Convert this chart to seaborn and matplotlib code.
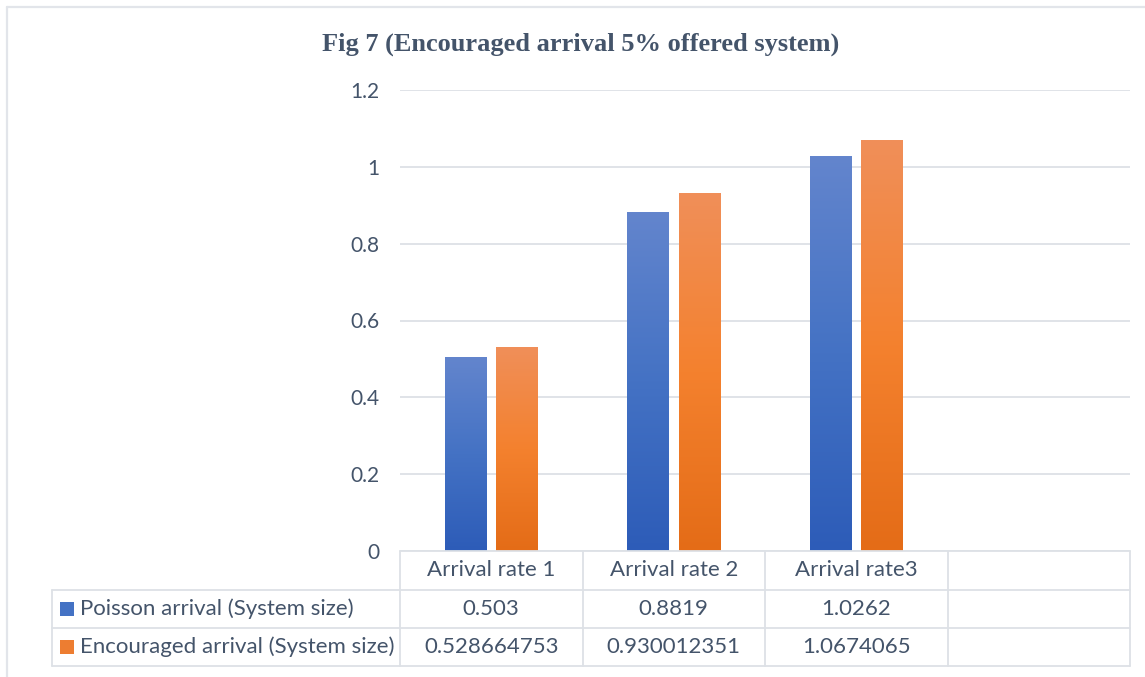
import numpy as np
import pandas as pd
import seaborn as sns
import matplotlib
matplotlib.use("Agg")
import matplotlib.pyplot as plt
from matplotlib import transforms
from matplotlib.colors import LinearSegmentedColormap
from matplotlib.patches import Rectangle

# ---- data ----
categories = ["Arrival rate 1", "Arrival rate 2", "Arrival rate3"]
series_names = ["Poisson arrival (System size)", "Encouraged arrival (System size)"]
poisson = [0.503, 0.8819, 1.0262]
encouraged = [0.528664753, 0.930012351, 1.0674065]
y_ticks = [0, 0.2, 0.4, 0.6, 0.8, 1.0, 1.2]
y_tick_labels = ["0", "0.2", "0.4", "0.6", "0.8", "1", "1.2"]
title = "Fig 7 (Encouraged arrival 5% offered system)"

# ---- style ----
W, H = 1145, 677
text_color = "#44546A"
grid_color = "#DDE1E6"
frame_color = "#E2E5EA"
blue_stops = ["#2D5CB8", "#4472C4", "#6385CD"]
orange_stops = ["#E46C17", "#F4812E", "#F08F59"]
base_colors = ["#4472C4", "#ED7D31"]
table_fs = 16
tick_fs = 15

sns.set_theme(style="white")
plt.rcParams["font.family"] = ["Lato", "DejaVu Sans"]

df = pd.DataFrame({
    "category": categories * 2,
    "series": [series_names[0]] * len(categories) + [series_names[1]] * len(categories),
    "value": poisson + encouraged,
})

fig = plt.figure(figsize=(W / 100, H / 100), dpi=100)
fig.patch.set_facecolor("white")

# pixel transform with origin at top-left
pix = transforms.Affine2D().scale(1 / W, -1 / H).translate(0, 1) + fig.transFigure

ax_left, ax_right, ax_top, ax_bottom = 400, 1130, 90, 551
ax = fig.add_axes([ax_left / W, (H - ax_bottom) / H,
                   (ax_right - ax_left) / W, (ax_bottom - ax_top) / H])

sns.barplot(data=df, x="category", y="value", hue="series",
            order=categories, hue_order=series_names,
            palette=base_colors, saturation=1, errorbar=None,
            width=0.565, gap=0.195, legend=False, ax=ax)

# vertical gradient fill for each bar
grad = np.linspace(0, 1, 256).reshape(-1, 1)
for container, stops in zip(ax.containers, [blue_stops, orange_stops]):
    cmap = LinearSegmentedColormap.from_list("g", stops)
    for patch in container.patches:
        x, y = patch.get_x(), patch.get_y()
        w, h = patch.get_width(), patch.get_height()
        patch.set_facecolor("none")
        patch.set_edgecolor("none")
        ax.imshow(grad, cmap=cmap, extent=(x, x + w, y, y + h),
                  origin="lower", aspect="auto", zorder=3,
                  interpolation="bilinear")

n_cols = len(categories) + 1
ax.set_xlim(-0.5, n_cols - 0.5)
ax.set_ylim(0, 1.2)
ax.set_yticks(y_ticks, y_tick_labels)
ax.set_xticks([])
ax.set_xlabel("")
ax.set_ylabel("")
ax.tick_params(axis="y", length=0, pad=14.5, labelsize=tick_fs, labelcolor=text_color)
ax.yaxis.grid(True, color=grid_color, linewidth=1.3)
ax.set_axisbelow(True)
for s in ax.spines.values():
    s.set_visible(False)

# ---- title ----
fig.text(581 / W, 1 - 44 / H, title, ha="center", va="center",
         fontsize=19, fontweight="bold", color=text_color,
         family=["Liberation Serif", "DejaVu Serif"])

# ---- outer chart frame ----
fig.add_artist(plt.Line2D([7, 7], [7, H], transform=pix, color=frame_color, lw=1.6))
fig.add_artist(plt.Line2D([7, W], [7, 7], transform=pix, color=frame_color, lw=1.6))

# ---- data table under the axis ----
fig.canvas.draw()
col_edges = [ax.transData.transform((x - 0.5, 0))[0] for x in range(n_cols + 1)]
col_centers = [(a + b) / 2 for a, b in zip(col_edges[:-1], col_edges[1:])]
table_left = 52
row_edges = [551, 590, 628, 666]

def hline(x0, x1, y):
    fig.add_artist(plt.Line2D([x0, x1], [y, y], transform=pix, color=grid_color, lw=1.3))

def vline(x, y0, y1):
    fig.add_artist(plt.Line2D([x, x], [y0, y1], transform=pix, color=grid_color, lw=1.3))

hline(col_edges[0], col_edges[-1], row_edges[0])
for y in row_edges[1:]:
    hline(table_left, col_edges[-1], y)
for x in col_edges:
    vline(x, row_edges[0], row_edges[-1])
vline(table_left, row_edges[1], row_edges[-1])

header_y = (row_edges[0] + row_edges[1]) / 2
for cx, cat in zip(col_centers, categories):
    fig.text(cx / W, 1 - header_y / H, cat, ha="center", va="center",
             fontsize=table_fs, color=text_color)

for i, (name, vals, color) in enumerate(zip(series_names, [poisson, encouraged], base_colors)):
    ry = (row_edges[i + 1] + row_edges[i + 2]) / 2
    fig.add_artist(Rectangle((60 / W, 1 - (ry + 7) / H), 14 / W, 14 / H,
                             transform=fig.transFigure, facecolor=color, edgecolor="none"))
    fig.text(80 / W, 1 - ry / H, name, ha="left", va="center",
             fontsize=table_fs, color=text_color)
    for cx, v in zip(col_centers, vals):
        fig.text(cx / W, 1 - ry / H, str(v), ha="center", va="center",
                 fontsize=table_fs, color=text_color)

fig.savefig("out.png", dpi=100, facecolor="white")
